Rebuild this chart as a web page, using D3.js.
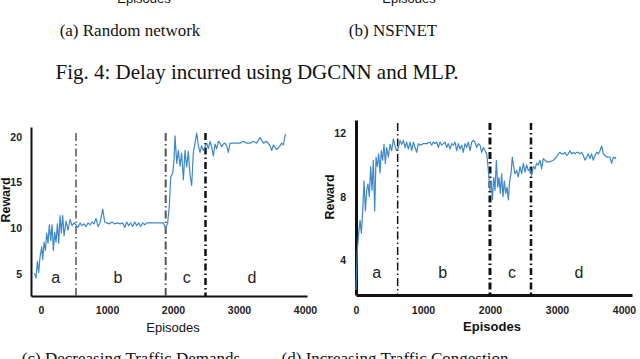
<!DOCTYPE html>
<html>
<head>
<meta charset="utf-8">
<style>
  html, body { margin: 0; padding: 0; background: #fff; }
  svg { display: block; }
  .tick text { font-family: "Liberation Sans Narrow", "Arial Narrow", "Liberation Sans", Arial, sans-serif; font-weight: bold; fill: #222; }
</style>
</head>
<body>
<svg width="640" height="359"></svg>
<script src="https://cdnjs.cloudflare.com/ajax/libs/d3/7.8.5/d3.min.js"></script>
<script>
// ---- data ----
var xTicks = [0, 1000, 2000, 3000, 4000];

// (c) Decreasing Traffic Demands
var demEpisodes = [-101, -76, -55, -35, -15, 10, 25, 46, 66, 86, 106, 126, 147, 167, 187, 207, 227, 248, 268, 288,
  308, 328, 349, 379, 409, 440, 470, 500, 530, 560, 591, 621, 652, 682, 712, 743, 773, 803, 833, 864,
  894, 935, 965, 995, 1035, 1076, 1116, 1157, 1197, 1237, 1268, 1298, 1328, 1359, 1389, 1419, 1450, 1480, 1510, 1540,
  1571, 1601, 1652, 1702, 1753, 1803, 1854, 1889, 1919, 1944, 1965, 1995, 2015, 2030, 2056, 2081, 2106, 2131, 2157, 2182,
  2207, 2232, 2258, 2283, 2308, 2333, 2359, 2384, 2409, 2434, 2460, 2485, 2510, 2535, 2561, 2586, 2611, 2636, 2662, 2687,
  2712, 2737, 2763, 2788, 2813, 2838, 2864, 2914, 2965, 3015, 3066, 3116, 3167, 3217, 3267, 3318, 3369, 3419, 3470, 3495,
  3520, 3570, 3621, 3646, 3671, 3697, 3712];
var demReward = [5.1, 4.6, 6.4, 5.2, 6.9, 8.0, 6.6, 8.5, 7.6, 9.5, 8.4, 10.4, 8.7, 10.4, 7.6, 9.6, 8.5, 10.5, 8.4, 11.4,
  9.5, 11.4, 9.2, 10.8, 9.8, 11.0, 10.3, 10.6, 10.4, 10.1, 10.6, 10.3, 10.5, 10.2, 10.6, 10.4, 10.7, 10.5, 11.1, 10.2,
  10.6, 12.1, 10.7, 10.6, 10.5, 10.7, 10.5, 10.6, 10.5, 10.6, 10.1, 10.7, 10.3, 10.6, 10.2, 10.7, 10.3, 10.6, 10.2, 10.6,
  10.4, 10.6, 10.6, 10.6, 10.6, 10.6, 10.6, 10.0, 10.6, 12.5, 15.6, 16.0, 17.5, 20.1, 17.1, 18.5, 16.8, 18.2, 15.3, 18.5,
  16.7, 18.4, 15.8, 14.7, 18.3, 19.3, 20.4, 19.0, 18.3, 19.0, 18.5, 18.9, 19.3, 18.7, 19.5, 18.9, 17.9, 19.2, 18.7, 19.5,
  19.3, 18.9, 19.2, 19.3, 19.0, 18.3, 19.3, 19.3, 19.3, 19.3, 19.5, 19.3, 19.3, 19.5, 19.3, 19.9, 19.3, 19.5, 19.0, 18.5,
  19.1, 18.6, 19.0, 19.3, 19.1, 20.1, 20.3];
var demYTicks = [5, 10, 15, 20];
var demPhases = [530, 1889, 2492];
var demPhaseLabels = [{ t: "a", ep: 223 }, { t: "b", ep: 1167 }, { t: "c", ep: 2208 }, { t: "d", ep: 3197 }];

// (d) Increasing Traffic Congestion
var conEpisodes = [0, 20, 40, 60, 80, 100, 120, 140, 160, 179, 199, 219, 239, 259, 279, 299, 319, 339, 359, 378,
  398, 418, 438, 458, 483, 508, 533, 558, 582, 607, 632, 657, 682, 707, 732, 756, 781, 806, 831, 856,
  881, 906, 931, 956, 1005, 1055, 1105, 1130, 1154, 1179, 1204, 1229, 1254, 1279, 1304, 1329, 1354, 1379, 1403, 1428,
  1453, 1478, 1503, 1528, 1552, 1577, 1602, 1627, 1652, 1677, 1702, 1727, 1751, 1776, 1801, 1826, 1851, 1876, 1901, 1926,
  1951, 1975, 2000, 2015, 2035, 2055, 2075, 2095, 2115, 2135, 2155, 2174, 2194, 2214, 2234, 2254, 2274, 2294, 2314, 2333,
  2353, 2373, 2398, 2423, 2448, 2473, 2498, 2523, 2547, 2572, 2597, 2622, 2647, 2672, 2697, 2722, 2747, 2771, 2796, 2821,
  2846, 2896, 2945, 2995, 3020, 3045, 3070, 3095, 3120, 3144, 3169, 3194, 3219, 3244, 3269, 3293, 3318, 3343, 3368, 3393,
  3418, 3443, 3468, 3492, 3517, 3542, 3567, 3592, 3617, 3642, 3667, 3692, 3716, 3741, 3766, 3791, 3816, 3841, 3866, 3881];
var conReward = [2.1, 4.6, 5.7, 6.5, 5.7, 7.1, 9.0, 7.1, 8.4, 8.8, 8.0, 9.9, 8.4, 10.3, 7.1, 10.5, 9.9, 10.7, 9.5, 10.9,
  10.3, 11.3, 10.1, 11.1, 10.5, 11.3, 10.9, 11.65, 11.2, 10.9, 11.1, 11.55, 11.3, 11.55, 11.1, 11.45, 11.0, 11.45, 10.9, 11.45,
  11.1, 10.8, 11.35, 11.25, 11.35, 11.35, 11.45, 11.25, 11.45, 11.35, 11.45, 11.1, 11.45, 11.25, 11.35, 11.45, 11.1, 11.35, 11.0, 11.35,
  11.25, 11.45, 10.9, 11.35, 11.0, 11.25, 10.8, 11.35, 11.1, 11.45, 10.9, 11.45, 11.55, 11.45, 11.1, 11.35, 11.25, 10.8, 11.1, 10.9,
  10.7, 9.7, 8.4, 9.0, 7.8, 9.2, 8.4, 10.3, 8.6, 9.2, 8.2, 9.45, 8.0, 9.0, 8.2, 8.6, 7.8, 9.0, 9.45, 10.5,
  9.9, 9.45, 9.65, 9.25, 9.9, 9.45, 10.1, 9.55, 10.0, 9.65, 9.75, 9.35, 9.9, 9.75, 10.1, 10.0, 10.3, 9.75, 10.4, 10.3,
  10.2, 10.2, 10.3, 10.5, 10.7, 10.8, 10.7, 10.7, 10.8, 10.6, 10.7, 10.9, 10.7, 10.8, 10.7, 10.8, 10.8, 10.7, 10.8, 10.6,
  10.3, 10.5, 10.7, 10.4, 10.7, 10.3, 10.6, 10.8, 10.7, 10.9, 11.2, 10.7, 10.6, 10.5, 10.5, 10.5, 10.1, 10.5, 10.4, 10.5];
var conYTicks = [4, 8, 12];
var conPhases = [622, 2000, 2612];
var conPhaseLabels = [{ t: "a", ep: 309 }, { t: "b", ep: 1294 }, { t: "c", ep: 2328 }, { t: "d", ep: 3328 }];

var svg = d3.select("svg");
var lineColor = "#3d88c9";
var serif = "'Liberation Serif', 'Times New Roman', Times, 'DejaVu Serif', serif";
var sans = "'Liberation Sans', Arial, sans-serif";

function panel(opt) {
  var x = d3.scaleLinear().domain(opt.xDomain).range(opt.xRange);
  var y = d3.scaleLinear().domain(opt.yDomain).range(opt.yRange);
  var g = svg.append("g");

  var xAxis = g.append("g")
    .attr("transform", "translate(0," + opt.yRange[0] + ")")
    .call(d3.axisBottom(x).tickValues(xTicks).tickSize(0).tickPadding(opt.xPad).tickFormat(d3.format("d")));
  xAxis.selectAll(".tick text").attr("font-size", 10.5);
  xAxis.select(".domain").attr("stroke", "#111").attr("stroke-width", opt.axisW);

  var yAxis = g.append("g")
    .attr("transform", "translate(" + opt.xRange[0] + ",0)")
    .call(d3.axisLeft(y).tickValues(opt.yTicks).tickSize(0).tickPadding(opt.yPad));
  yAxis.selectAll(".tick text").attr("font-size", 10.5);
  yAxis.select(".domain").attr("stroke", "#111").attr("stroke-width", opt.axisW);

  // phase separators
  g.selectAll("line.phase").data(opt.phases).enter().append("line")
    .attr("class", "phase")
    .attr("x1", function(d) { return x(d); })
    .attr("x2", function(d) { return x(d); })
    .attr("y1", opt.phaseTop)
    .attr("y2", opt.yRange[0])
    .attr("stroke", function(d, i) { return opt.phaseColor[i]; })
    .attr("stroke-width", function(d, i) { return opt.phaseW[i]; })
    .attr("stroke-dasharray", function(d, i) { return opt.phaseDash[i]; });

  var line = d3.line()
    .x(function(d, i) { return x(opt.episodes[i]); })
    .y(function(d) { return y(d); });
  g.append("path")
    .datum(opt.values)
    .attr("d", line)
    .attr("fill", "none")
    .attr("stroke", lineColor)
    .attr("stroke-width", 1.2)
    .attr("stroke-linejoin", "round");

  g.selectAll("text.phase").data(opt.phaseLabels).enter().append("text")
    .attr("class", "phase")
    .attr("x", function(d) { return x(d.ep); })
    .attr("y", y(opt.labelY))
    .attr("text-anchor", "middle")
    .attr("font-family", sans)
    .attr("font-size", 16)
    .attr("fill", "#222")
    .text(function(d) { return d.t; });

  g.append("text")
    .attr("transform", "translate(" + opt.yTitleX + "," + opt.yTitleY + ") rotate(-90)")
    .attr("text-anchor", "middle")
    .attr("font-family", sans)
    .attr("font-weight", "bold")
    .attr("font-size", 12.5)
    .attr("fill", "#111")
    .text("Reward");

  g.append("text")
    .attr("x", opt.xTitleX)
    .attr("y", opt.xTitleY)
    .attr("text-anchor", "middle")
    .attr("font-family", sans)
    .attr("font-weight", opt.xTitleWeight)
    .attr("font-size", 13)
    .attr("fill", "#111")
    .text("Episodes");
}

panel({
  xDomain: [-152, 4030], xRange: [31, 307],
  yDomain: [2.63, 21.06], yRange: [296, 127],
  yTicks: demYTicks, xPad: 11, yPad: 9, axisW: 2,
  episodes: demEpisodes, values: demReward,
  phases: demPhases, phaseTop: 133,
  phaseColor: ["#555", "#555", "#111"],
  phaseW: [1.5, 2, 2.5],
  phaseDash: ["8,3,1.5,3", "8,3,1.5,3", "7,3,1.5,3"],
  phaseLabels: demPhaseLabels, labelY: 4.05,
  yTitleX: 10, yTitleY: 200, xTitleX: 173, xTitleY: 332, xTitleWeight: "normal"
});

panel({
  xDomain: [0, 4120], xRange: [356, 632],
  yDomain: [1.79, 12.84], yRange: [295, 120],
  yTicks: conYTicks, xPad: 12, yPad: 10, axisW: 3,
  episodes: conEpisodes, values: conReward,
  phases: conPhases, phaseTop: 123,
  phaseColor: ["#111", "#111", "#111"],
  phaseW: [1.5, 3, 2.5],
  phaseDash: ["8,3,1.5,3", "7,3,1.5,3", "7,3,1.5,3"],
  phaseLabels: conPhaseLabels, labelY: 2.85,
  yTitleX: 334, yTitleY: 197, xTitleX: 492, xTitleY: 331, xTitleWeight: "bold"
});

// captions (top belongs to the figure above, bottom is cut by the frame)
var topTitles = [{ t: "Episodes", x: 144 }, { t: "Episodes", x: 409 }];
svg.selectAll("text.toptitle").data(topTitles).enter().append("text")
  .attr("class", "toptitle")
  .attr("x", function(d) { return d.x; })
  .attr("y", 3)
  .attr("text-anchor", "middle")
  .attr("font-family", sans)
  .attr("font-size", 13)
  .attr("fill", "#111")
  .text(function(d) { return d.t; });

var captions = [
  { t: "(a) Random network", x: 130, y: 36, s: 17 },
  { t: "(b) NSFNET", x: 393, y: 36, s: 17 },
  { t: "Fig. 4: Delay incurred using DGCNN and MLP.", x: 257, y: 79, s: 21 },
  { t: "(c) Decreasing Traffic Demands", x: 131, y: 364, s: 17 },
  { t: "(d) Increasing Traffic Congestion", x: 395, y: 364, s: 17 }
];
svg.selectAll("text.cap").data(captions).enter().append("text")
  .attr("class", "cap")
  .attr("x", function(d) { return d.x; })
  .attr("y", function(d) { return d.y; })
  .attr("text-anchor", "middle")
  .attr("font-family", serif)
  .attr("font-size", function(d) { return d.s; })
  .attr("fill", "#111")
  .text(function(d) { return d.t; });
</script>
</body>
</html>
